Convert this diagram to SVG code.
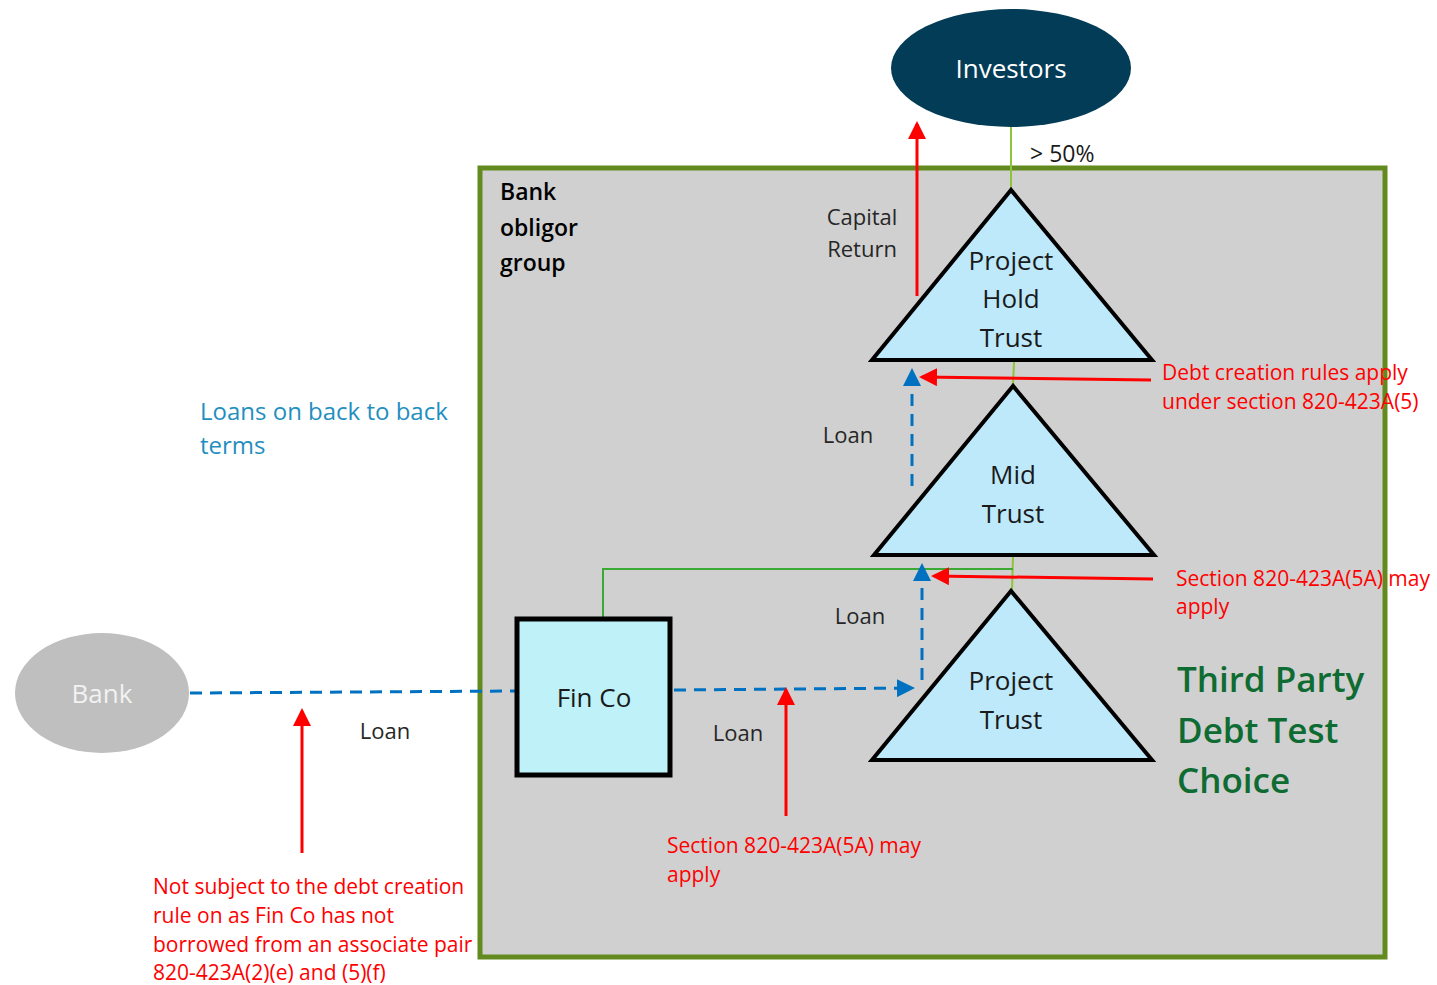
<svg xmlns="http://www.w3.org/2000/svg" width="1437" height="985" viewBox="0 0 1437 985">
<defs>
<style>
text{font-family:"Open Sans","Noto Sans","DejaVu Sans",sans-serif;}
.tri{fill:#bde9fb;stroke:#000;stroke-width:4;stroke-linejoin:miter;}
.nt{font-size:26px;fill:#1a1a1a;text-anchor:middle;}
.lbl{font-size:22px;fill:#262626;}
.red{font-size:21px;fill:#ff0000;}
.own{stroke:#8cc43a;stroke-width:2;fill:none;}
.loan{stroke:#0070c0;stroke-width:3;stroke-dasharray:12 8;fill:none;}
.ra{stroke:#ff0000;stroke-width:3;fill:none;}
.tp{font-size:35px;font-weight:600;fill:#0e6b32;}
</style>
<marker id="ah-red" markerWidth="6" markerHeight="6" refX="5" refY="3" orient="auto" markerUnits="strokeWidth" viewBox="0 0 6 6"><path d="M0,0 L6,3 L0,6 z" fill="#ff0000"/></marker>
<marker id="ah-blue" markerWidth="6" markerHeight="6" refX="5" refY="3" orient="auto" markerUnits="strokeWidth" viewBox="0 0 6 6"><path d="M0,0 L6,3 L0,6 z" fill="#0070c0"/></marker>
</defs>
<rect width="1437" height="985" fill="#ffffff"/>
<g id="group-box">
<rect x="480" y="168" width="905" height="789" fill="#d0d0d0" stroke="#638a1e" stroke-width="5"/>
<text x="500" y="200" font-size="23" font-weight="600" fill="#000">Bank</text>
<text x="500" y="236" font-size="23" font-weight="600" fill="#000">obligor</text>
<text x="500" y="271" font-size="23" font-weight="600" fill="#000">group</text>
</g>
<g id="connectors">
<line class="own" x1="1011" y1="127" x2="1011" y2="190"/>
<line class="own" x1="1014" y1="362" x2="1013" y2="386"/>
<line class="own" x1="1013" y1="556" x2="1012" y2="591"/>
<polyline class="own" style="stroke:#3aaa35" points="603,619 603,569 1013,569"/>
<line class="loan" x1="190" y1="693" x2="517" y2="691"/>
<line class="loan" x1="674" y1="690" x2="912" y2="688" marker-end="url(#ah-blue)"/>
<line class="loan" x1="922" y1="680" x2="922" y2="566" marker-end="url(#ah-blue)"/>
<line class="loan" x1="912" y1="486" x2="912" y2="371" marker-end="url(#ah-blue)"/>
<line class="ra" x1="917" y1="296" x2="917" y2="124" marker-end="url(#ah-red)"/>
<line class="ra" x1="1151" y1="380" x2="922" y2="377" marker-end="url(#ah-red)"/>
<line class="ra" x1="1153" y1="579" x2="934" y2="576" marker-end="url(#ah-red)"/>
<line class="ra" x1="786" y1="816" x2="786" y2="690" marker-end="url(#ah-red)"/>
<line class="ra" x1="302" y1="853" x2="302" y2="711" marker-end="url(#ah-red)"/>
</g>
<g id="investors">
<ellipse cx="1011" cy="68" rx="120" ry="59" fill="#033c57"/>
<text x="1011" y="78" font-size="26" fill="#ffffff" text-anchor="middle">Investors</text>
</g>
<g id="project-hold-trust">
<polygon class="tri" points="1011,190 872,360 1152,360"/>
<text class="nt" x="1011" y="270">Project</text>
<text class="nt" x="1011" y="308">Hold</text>
<text class="nt" x="1011" y="347">Trust</text>
</g>
<g id="mid-trust">
<polygon class="tri" points="1013,386 874,555 1154,555"/>
<text class="nt" x="1013" y="484">Mid</text>
<text class="nt" x="1013" y="523">Trust</text>
</g>
<g id="project-trust">
<polygon class="tri" points="1011,591 872,760 1152,760"/>
<text class="nt" x="1011" y="690">Project</text>
<text class="nt" x="1011" y="729">Trust</text>
</g>
<g id="fin-co">
<rect x="517" y="619" width="153" height="156" fill="#bef1f8" stroke="#000" stroke-width="5"/>
<text class="nt" x="594" y="707">Fin Co</text>
</g>
<g id="bank">
<ellipse cx="102" cy="693" rx="87" ry="60" fill="#bfbfbf"/>
<text x="102" y="703" font-size="26" fill="#f2f2f2" text-anchor="middle">Bank</text>
</g>
<g id="labels">
<text x="1030" y="162" font-size="23" fill="#1a1a1a">&gt; 50%</text>
<text class="lbl" x="862" y="225" text-anchor="middle">Capital</text>
<text class="lbl" x="862" y="257" text-anchor="middle">Return</text>
<text class="lbl" x="848" y="443" text-anchor="middle">Loan</text>
<text class="lbl" x="860" y="624" text-anchor="middle">Loan</text>
<text class="lbl" x="738" y="741" text-anchor="middle">Loan</text>
<text class="lbl" x="385" y="739" text-anchor="middle">Loan</text>
<text x="200" y="420" font-size="24" fill="#1f8fc0">Loans on back to back</text>
<text x="200" y="454" font-size="24" fill="#1f8fc0">terms</text>
<text class="red" x="1162" y="380">Debt creation rules apply</text>
<text class="red" x="1162" y="409">under section 820-423A(5)</text>
<text class="red" x="1176" y="586">Section 820-423A(5A) may</text>
<text class="red" x="1176" y="614">apply</text>
<text class="red" x="667" y="853">Section 820-423A(5A) may</text>
<text class="red" x="667" y="882">apply</text>
<text class="red" x="153" y="894">Not subject to the debt creation</text>
<text class="red" x="153" y="923">rule on as Fin Co has not</text>
<text class="red" x="153" y="952">borrowed from an associate pair</text>
<text class="red" x="153" y="980">820-423A(2)(e) and (5)(f)</text>
<text class="tp" x="1177" y="692">Third Party</text>
<text class="tp" x="1177" y="743">Debt Test</text>
<text class="tp" x="1177" y="793">Choice</text>
</g>
</svg>
